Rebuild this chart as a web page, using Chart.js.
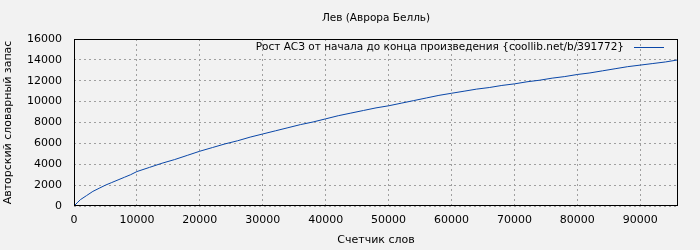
<!DOCTYPE html>
<html>
<head>
<meta charset="utf-8">
<script src="https://cdn.jsdelivr.net/npm/chart.js@4"></script>
<style>
  html, body { margin: 0; padding: 0; background: #f2f2f2; }
  #wrap { width: 700px; height: 250px; }
</style>
</head>
<body>
<div id="wrap"><canvas id="chart" width="700" height="250"></canvas></div>
<script>
// Word counter (x) and author's vocabulary (y)
const wordCounts = [0, 500, 1000, 2000, 3000, 4000, 5000, 6000, 7000, 8000, 9000, 10000,
  12000, 14000, 16000, 18000, 20000, 22000, 24000, 26000, 28000, 30000, 32000, 34000,
  36000, 38000, 40000, 42000, 44000, 46000, 48000, 50000, 52000, 54000, 56000, 58000,
  60000, 62000, 64000, 66000, 68000, 70000, 72000, 74000, 76000, 78000, 80000, 82000,
  84000, 86000, 88000, 90000, 92000, 94000, 96000];
const vocabulary = [0, 300, 600, 1000, 1400, 1700, 2000, 2250, 2500, 2750, 3000, 3300,
  3700, 4100, 4450, 4850, 5250, 5600, 5950, 6250, 6600, 6900, 7200, 7500,
  7800, 8050, 8350, 8650, 8900, 9150, 9400, 9600, 9850, 10100, 10350, 10600,
  10800, 11000, 11200, 11350, 11550, 11700, 11900, 12050, 12250, 12400, 12600, 12750,
  12950, 13150, 13350, 13500, 13650, 13800, 14000];
const xTickValues = [0, 10000, 20000, 30000, 40000, 50000, 60000, 70000, 80000, 90000];
const yTickValues = [0, 2000, 4000, 6000, 8000, 10000, 12000, 14000, 16000];

const chartTitle = 'Лев (Аврора Белль)';
const seriesLabel = 'Рост АСЗ от начала до конца произведения {coollib.net/b/391772}';
const xTitle = 'Счетчик слов';
const yTitle = 'Авторский словарный запас';

const FONT = 'DejaVu Sans';
const lineColor = '#0a47a8';

const points = wordCounts.map((x, i) => ({ x: x, y: vocabulary[i] }));

// Background, title over the plot, frame and the legend on the top right
const framePlugin = {
  id: 'frame',
  beforeDraw(chart) {
    const ctx = chart.ctx;
    ctx.save();
    ctx.fillStyle = '#f2f2f2';
    ctx.fillRect(0, 0, chart.width, chart.height);
    ctx.restore();
  },
  afterDraw(chart) {
    const ctx = chart.ctx;
    const a = chart.chartArea;
    ctx.save();
    ctx.strokeStyle = '#000';
    ctx.lineWidth = 1;
    ctx.strokeRect(Math.round(a.left) + 0.5, Math.round(a.top) + 0.5,
      Math.round(a.right - a.left) - 1, Math.round(a.bottom - a.top) - 1);

    // title centred over the plot area
    ctx.fillStyle = '#000';
    ctx.font = '10.5px "' + FONT + '"';
    ctx.textAlign = 'center';
    ctx.textBaseline = 'middle';
    ctx.fillText(chartTitle, (a.left + a.right) / 2, 18);

    // legend: text then line sample
    const ly = a.top + 8;
    const lineRight = a.right - 14;
    const lineLeft = lineRight - 30;
    ctx.strokeStyle = lineColor;
    ctx.beginPath();
    ctx.moveTo(lineLeft, Math.round(ly) + 0.5);
    ctx.lineTo(lineRight, Math.round(ly) + 0.5);
    ctx.stroke();
    ctx.textAlign = 'right';
    ctx.fillText(seriesLabel, lineLeft - 10, ly);
    ctx.restore();
  }
};

const ctx = document.getElementById('chart').getContext('2d');
const chart = new Chart(ctx, {
  type: 'line',
  data: {
    datasets: [{
      label: seriesLabel,
      data: points,
      borderColor: lineColor,
      borderWidth: 1,
      pointRadius: 0,
      fill: false,
      tension: 0
    }]
  },
  options: {
    responsive: false,
    animation: false,
    layout: { padding: { left: 0, right: 22, top: 39, bottom: 0 } },
    plugins: {
      legend: { display: false },
      tooltip: { enabled: false },
      title: { display: false }
    },
    scales: {
      x: {
        type: 'linear',
        min: 0,
        max: 96000,
        afterFit(scale) { scale.height = 44; },
        afterBuildTicks(scale) { scale.ticks = xTickValues.map(v => ({ value: v })); },
        ticks: {
          color: '#000',
          padding: 8,
          maxRotation: 0,
          autoSkip: false,
          font: { family: FONT, size: 11 },
          callback: v => String(v)
        },
        grid: { color: '#a0a0a0', drawTicks: false, lineWidth: 1 },
        border: { display: false, dash: [2, 3] },
        title: {
          display: true,
          text: xTitle,
          color: '#000',
          font: { family: FONT, size: 11 },
          padding: { top: 0, bottom: 3 }
        }
      },
      y: {
        min: 0,
        max: 16000,
        afterFit(scale) { scale.width = 74; },
        afterBuildTicks(scale) { scale.ticks = yTickValues.map(v => ({ value: v })); },
        ticks: {
          color: '#000',
          padding: 12,
          autoSkip: false,
          font: { family: FONT, size: 11 },
          callback: v => String(v)
        },
        grid: { color: '#a0a0a0', drawTicks: false, lineWidth: 1 },
        border: { display: false, dash: [2, 3] },
        title: {
          display: true,
          text: yTitle,
          color: '#000',
          font: { family: FONT, size: 11 },
          padding: { top: 2, bottom: 0 }
        }
      }
    }
  },
  plugins: [framePlugin]
});
</script>
</body>
</html>
